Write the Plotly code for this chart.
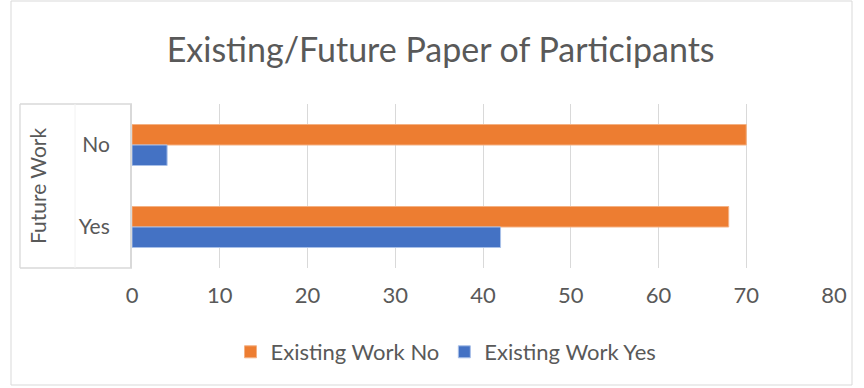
import plotly.graph_objects as go

categories = ["No", "Yes"]
existing_no = [70, 68]
existing_yes = [4, 42]
x_ticks = [0, 10, 20, 30, 40, 50, 60, 70, 80]

FONT = "Lato, 'Open Sans', sans-serif"
GRAY = "#595959"

fig = go.Figure()
fig.add_trace(go.Bar(y=categories, x=existing_no, orientation="h", name="Existing Work No",
                     marker=dict(color="#ED7D31", line=dict(color="#F4B183", width=1))))
fig.add_trace(go.Bar(y=categories, x=existing_yes, orientation="h", name="Existing Work Yes",
                     marker=dict(color="#4472C4", line=dict(color="#A9C0E8", width=1))))

W, H = 864, 388
L, R, T, B = 132, 30, 104, 120

fig.update_layout(
    width=W, height=H,
    margin=dict(l=L, r=R, t=T, b=B),
    paper_bgcolor="white", plot_bgcolor="white",
    barmode="group", bargap=0.5, bargroupgap=0,
    font=dict(family=FONT, color=GRAY, size=21),
    title=dict(text="Existing/Future Paper of Participants", x=0.51, xanchor="center",
               y=1 - 50 / H, yanchor="middle", font=dict(size=34, color=GRAY, family=FONT)),
    showlegend=True,
    legend=dict(orientation="h", x=(446 - L) / (W - L - R), xanchor="center", y=-84 / 164,
                yanchor="middle", font=dict(size=22, color=GRAY, family=FONT), itemwidth=30),
    xaxis=dict(range=[0, 80], tickvals=x_ticks, showgrid=True, gridcolor="#D9D9D9", gridwidth=1.3,
               zeroline=False, showline=False, ticks="", ticklabelstandoff=12,
               tickfont=dict(size=22, color=GRAY)),
    yaxis=dict(categoryorder="array", categoryarray=categories, autorange="reversed",
               showline=True, linecolor="#D9D9D9", linewidth=2, ticks="", ticklabelstandoff=16,
               tickfont=dict(size=21, color=GRAY),
               title=dict(text="Future Work", standoff=26, font=dict(size=21, color=GRAY))),
)

# Excel-like chart border and category-label box
shapes = [
    dict(type="rect", xref="paper", yref="paper",
         x0=(11 - L) / (W - L - R), x1=(852 - L) / (W - L - R),
         y0=(H - B - 385) / (H - T - B), y1=(H - B - 1) / (H - T - B),
         line=dict(color="#D9D9D9", width=1)),
    dict(type="line", xref="paper", yref="paper",
         x0=(20 - L) / (W - L - R), x1=0, y0=1, y1=1, line=dict(color="#D9D9D9", width=1.3)),
    dict(type="line", xref="paper", yref="paper",
         x0=(20 - L) / (W - L - R), x1=0, y0=0, y1=0, line=dict(color="#D9D9D9", width=1.3)),
    dict(type="line", xref="paper", yref="paper",
         x0=(20 - L) / (W - L - R), x1=(20 - L) / (W - L - R), y0=0, y1=1,
         line=dict(color="#D9D9D9", width=1.3)),
    dict(type="line", xref="paper", yref="paper",
         x0=(75 - L) / (W - L - R), x1=(75 - L) / (W - L - R), y0=0, y1=1,
         line=dict(color="#F2F2F2", width=1)),
]
fig.update_layout(shapes=shapes)

fig.write_html("out.html")
